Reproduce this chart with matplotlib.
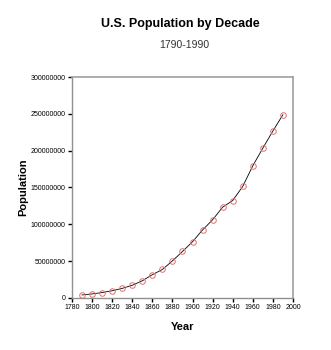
import matplotlib
matplotlib.use("Agg")
import matplotlib.pyplot as plt

plt.rcParams['font.family'] = ['Liberation Sans', 'DejaVu Sans']

years = [1790, 1800, 1810, 1820, 1830, 1840, 1850, 1860, 1870, 1880, 1890,
         1900, 1910, 1920, 1930, 1940, 1950, 1960, 1970, 1980, 1990]
population = [3929214, 5308483, 7239881, 9638453, 12866020, 17069453, 23191876,
              31443321, 38558371, 50189209, 62979766, 76212168, 92228496,
              106021537, 123202624, 132164569, 151325798, 179323175,
              203302031, 226542199, 248709873]
x_ticks = list(range(1780, 2001, 20))
y_ticks = list(range(0, 300000001, 50000000))

fig = plt.figure(figsize=(3.31, 3.5), dpi=100)
ax = fig.add_axes([0.2175, 0.149, 0.6675, 0.631])

ax.plot(years, population, color='black', linewidth=0.6, zorder=2)
ax.plot(years, population, linestyle='none', marker='o', markersize=4,
        markerfacecolor='none', markeredgecolor='#e07070', markeredgewidth=0.7, zorder=3)

ax.set_xlim(1780, 2000)
ax.set_ylim(0, 300000000)
ax.set_xticks(x_ticks)
ax.set_yticks(y_ticks)
ax.set_xticklabels([str(t) for t in x_ticks])
ax.set_yticklabels([str(t) for t in y_ticks])
ax.tick_params(direction='out', length=3, width=1, labelsize=5, pad=1.5,
               colors='black')

for side in ['top', 'right']:
    ax.spines[side].set_color('#a0a0a0')
    ax.spines[side].set_linewidth(1.2)
for side in ['left', 'bottom']:
    ax.spines[side].set_color('#909090')
    ax.spines[side].set_linewidth(1.0)

ax.set_xlabel("Year", fontsize=8, fontweight='bold', labelpad=8)
ax.set_ylabel("Population", fontsize=8, fontweight='bold', labelpad=2)

fig.text(0.545, 0.93, "U.S. Population by Decade", ha='center', va='center',
         fontsize=9, fontweight='bold')
fig.text(0.557, 0.87, "1790-1990", ha='center', va='center', fontsize=7.5,
         color='#333333')

fig.savefig("out.png", dpi=100)
